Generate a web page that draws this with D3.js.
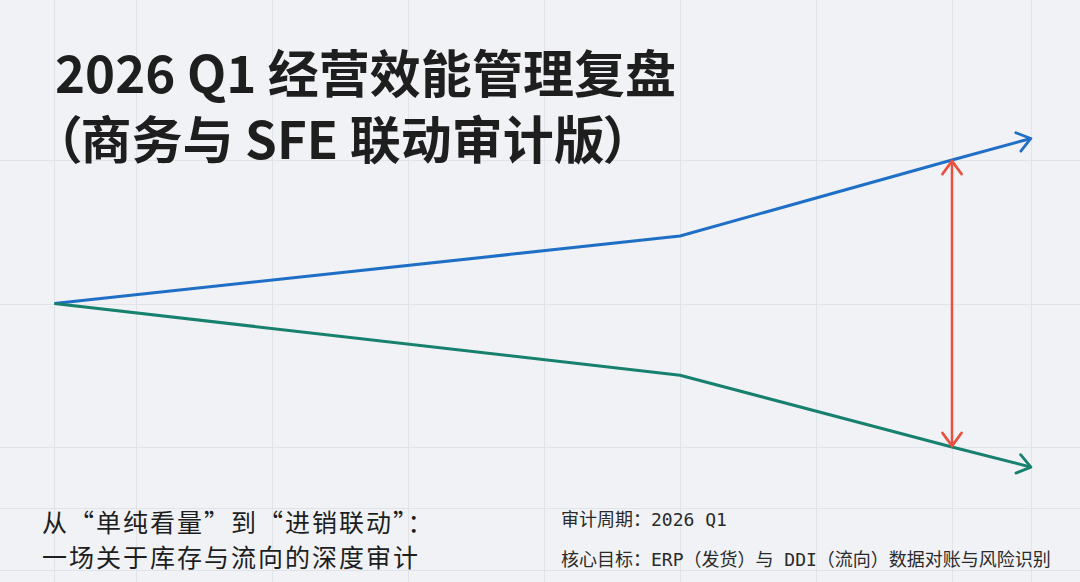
<!DOCTYPE html>
<html><head><meta charset="utf-8">
<script src="https://cdn.jsdelivr.net/npm/d3@7"></script>
<style>
html,body{margin:0;padding:0;background:#f0f2f5;}
svg{display:block;}
</style></head>
<body>
<svg id="c" width="1080" height="582"></svg>
<script>
// ---- data ----
const stages = [0.4, 5, 7, 7.58];            // timeline positions (grid units)
const erpValues = [0, 0.47, 1.0, 1.15];      // ERP shipments trend (blue)
const ddiValues = [0, -0.50, -1.0, -1.14];   // DDI flow trend (green)
const gapStage = 7;                           // where the gap is measured
const gridX = [1, 2, 3, 4, 5, 6, 7];
const gridY = [-1, 0, 1];
const titleLines = ["2026 Q1 经营效能管理复盘", "（商务与 SFE 联动审计版）"];
const subLines = ["从“单纯看量”到“进销联动”：", "一场关于库存与流向的深度审计"];
const metaLines = ["审计周期：2026 Q1", "核心目标：ERP（发货）与 DDI（流向）数据对账与风险识别"];

const W = 1080, H = 582;
const svg = d3.select("#c");
const x = d3.scaleLinear().domain([0, 8]).range([0, 1088]);
const y = d3.scaleLinear().domain([-1, 1]).range([447, 160]);

svg.append("rect").attr("width", W).attr("height", H).attr("fill", "#f0f2f5");

const grid = svg.append("g").attr("stroke", "#e0e3e8").attr("stroke-width", 1);
grid.selectAll("line.vx").data(gridX.concat([stages[0], stages[stages.length-1]])).join("line")
  .attr("x1", d => Math.round(x(d)) + 0.5).attr("x2", d => Math.round(x(d)) + 0.5)
  .attr("y1", 0).attr("y2", H);
grid.selectAll("line.hy").data(gridY).join("line")
  .attr("y1", d => Math.round(y(d)) + 0.5).attr("y2", d => Math.round(y(d)) + 0.5)
  .attr("x1", 0).attr("x2", W);
// footer rules
[508, 570].forEach(yy => grid.append("line").attr("x1", 0).attr("x2", W).attr("y1", yy + 0.5).attr("y2", yy + 0.5));

const defs = svg.append("defs");
function marker(id, color) {
  defs.append("marker").attr("id", id).attr("markerUnits", "userSpaceOnUse")
    .attr("viewBox", "-16 -12 20 24").attr("refX", 0).attr("refY", 0)
    .attr("markerWidth", 20).attr("markerHeight", 24).attr("orient", "auto-start-reverse")
    .append("path").attr("d", "M-13,-9.5L0,0L-13,9.5").attr("fill", "none")
    .attr("stroke", color).attr("stroke-width", 2.8).attr("stroke-linecap", "round").attr("stroke-linejoin", "round");
}
marker("aBlue", "#1f6fc6");
marker("aGreen", "#17806e");
marker("aRed", "#e8503f");

const line = d3.line().x(d => x(d[0])).y(d => y(d[1]));
svg.append("path").datum(stages.map((s, i) => [s, erpValues[i]]))
  .attr("d", line).attr("fill", "none").attr("stroke", "#1f6fc6").attr("stroke-width", 3)
  .attr("stroke-linejoin", "round").attr("marker-end", "url(#aBlue)");
svg.append("path").datum(stages.map((s, i) => [s, ddiValues[i]]))
  .attr("d", line).attr("fill", "none").attr("stroke", "#17806e").attr("stroke-width", 3)
  .attr("stroke-linejoin", "round").attr("marker-end", "url(#aGreen)");

const gi = stages.indexOf(gapStage);
svg.append("line").attr("x1", x(gapStage)).attr("x2", x(gapStage))
  .attr("y1", y(erpValues[gi]) + 1).attr("y2", y(ddiValues[gi]) - 1)
  .attr("stroke", "#e8503f").attr("stroke-width", 2.5)
  .attr("marker-start", "url(#aRed)").attr("marker-end", "url(#aRed)");

// titles
const t = svg.append("g").attr("font-family", "'Noto Sans CJK SC', 'Noto Sans', sans-serif")
  .attr("font-weight", 700).attr("font-size", 51).attr("fill", "#1e1e1e");
t.selectAll("text").data(titleLines).join("text")
  .attr("x", 55).attr("y", (d, i) => 93 + i * 66)
  .style("font-feature-settings", (d, i) => i === 1 ? "'palt'" : null)
  .text(d => d);

const s = svg.append("g").attr("font-family", "'Noto Sans CJK SC', sans-serif")
  .attr("font-weight", 400).attr("font-size", 25).attr("letter-spacing", 2).attr("fill", "#1e1e1e");
s.selectAll("text").data(subLines).join("text")
  .attr("x", 42).attr("y", (d, i) => 532 + i * 35).text(d => d);

const m = svg.append("g").attr("font-family", "'DejaVu Sans Mono', 'Noto Sans CJK SC', monospace")
  .attr("font-size", 18).attr("fill", "#2a2a2a");
m.selectAll("text").data(metaLines).join("text")
  .attr("x", 561).attr("y", (d, i) => 526 + i * 40).text(d => d);
</script>
</body></html>
